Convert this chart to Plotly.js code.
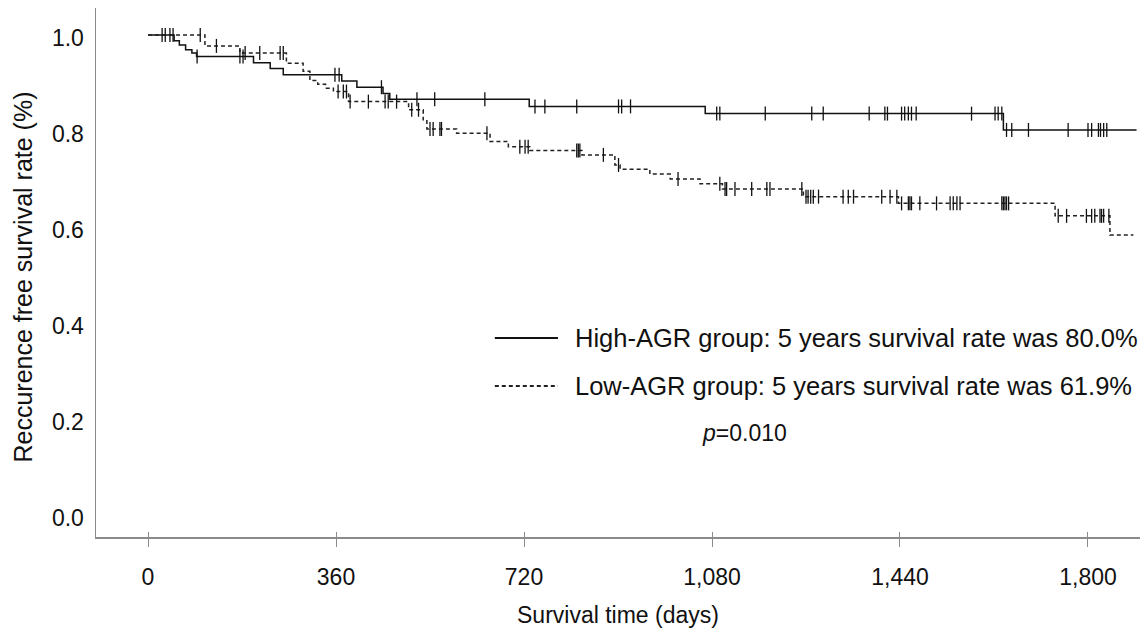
<!DOCTYPE html>
<html>
<head>
<meta charset="utf-8">
<script src="https://cdn.plot.ly/plotly-3.0.1.min.js"></script>
<style>
  html, body { margin: 0; padding: 0; background: #fff; }
  #chart { width: 1145px; height: 634px; }
</style>
</head>
<body>
<div id="chart"></div>
<script>
// ---------- DATA ----------
// High-AGR group: step times (days) and survival after each step
const highStepDays = [0, 50, 60, 72, 84, 93, 202, 234, 259, 371, 400, 450, 463, 730, 1067, 1638, 1893];
const highStepSurv = [1.0, 0.988, 0.979, 0.969, 0.962, 0.955, 0.942, 0.930, 0.917, 0.904, 0.891, 0.878, 0.866, 0.851, 0.836, 0.802, 0.802];
const highCensorDays = [27, 42, 94, 176, 182, 358, 366, 447, 515, 549, 645, 741, 760, 821, 901, 907, 924,
  1089, 1095, 1182, 1271, 1293, 1381, 1411, 1416, 1443, 1449, 1456, 1462, 1471, 1577, 1622, 1628, 1635,
  1644, 1654, 1686, 1762, 1800, 1807, 1820, 1824, 1830, 1836];

// Low-AGR group
const lowStepDays = [0, 109, 176, 265, 297, 310, 325, 340, 355, 384, 499, 527, 534, 591, 655, 690, 731, 831,
  894, 904, 961, 1000, 1057, 1100, 1255, 1437, 1737, 1842, 1887];
const lowStepSurv = [1.0, 0.977, 0.962, 0.941, 0.924, 0.905, 0.897, 0.889, 0.882, 0.861, 0.844, 0.823, 0.804,
  0.795, 0.778, 0.767, 0.759, 0.750, 0.729, 0.720, 0.710, 0.700, 0.690, 0.679, 0.663, 0.649, 0.623, 0.583, 0.583];
const lowCensorDays = [33, 48, 100, 131, 186, 214, 253, 259, 364, 374, 380, 387, 422, 454, 460, 476, 505, 518,
  540, 546, 559, 562, 649, 712, 722, 728, 821, 824, 827, 872, 901, 1015, 1095, 1105, 1108, 1124, 1156, 1185,
  1191, 1252, 1260, 1264, 1269, 1274, 1284, 1331, 1341, 1351, 1405, 1421, 1434, 1443, 1456, 1459, 1462, 1478,
  1510, 1536, 1542, 1549, 1555, 1635, 1638, 1641, 1644, 1648, 1743, 1759, 1797, 1807, 1813, 1823, 1826, 1830, 1840];

const xTickVals = [0, 360, 720, 1080, 1440, 1800];
const xTickText = ['0', '360', '720', '1,080', '1,440', '1,800'];
const yTickVals = [0, 0.2, 0.4, 0.6, 0.8, 1.0];
const yTickText = ['0.0', '0.2', '0.4', '0.6', '0.8', '1.0'];

const highLabel = 'High-AGR group: 5 years survival rate was 80.0%';
const lowLabel = 'Low-AGR group: 5 years survival rate was 61.9%';
const pLabel = '<i>p</i>=0.010';
const xTitle = 'Survival time (days)';
const yTitle = 'Reccurence free survival rate (%)';

// ---------- helpers ----------
function survAt(days, surv, t) {
  let v = surv[0];
  for (let i = 0; i < days.length; i++) { if (days[i] <= t) v = surv[i]; }
  return v;
}

const FONT = 'Liberation Sans, Arial, sans-serif';
const INK = '#111111';
const AXIS = '#8a8a8a';

const traces = [
  { x: highStepDays, y: highStepSurv, mode: 'lines', line: { shape: 'hv', color: INK, width: 1.5 },
    hoverinfo: 'skip', showlegend: false },
  { x: lowStepDays, y: lowStepSurv, mode: 'lines', line: { shape: 'hv', color: '#222', width: 1.5, dash: '4px,3px' },
    hoverinfo: 'skip', showlegend: false },
  { x: highCensorDays, y: highCensorDays.map(t => survAt(highStepDays, highStepSurv, t)), mode: 'markers',
    marker: { symbol: 'line-ns', size: 10, line: { color: INK, width: 1.3 } }, showlegend: false, hoverinfo: 'skip' },
  { x: lowCensorDays, y: lowCensorDays.map(t => survAt(lowStepDays, lowStepSurv, t)), mode: 'markers',
    marker: { symbol: 'line-ns', size: 10, line: { color: INK, width: 1.3 } }, showlegend: false, hoverinfo: 'skip' },
  // dummy trace on overlay axis so the inside ticks are drawn
  { x: [0], y: [0], xaxis: 'x2', mode: 'markers', marker: { opacity: 0 }, showlegend: false, hoverinfo: 'skip' }
];

const layout = {
  width: 1145, height: 634,
  margin: { l: 96, r: 5, t: 8, b: 97 },
  paper_bgcolor: '#fff', plot_bgcolor: '#fff',
  font: { family: FONT, size: 24, color: INK },
  showlegend: false,
  xaxis: {
    range: [-99.6, 1899.6], showgrid: false, zeroline: false,
    showline: true, linecolor: AXIS, linewidth: 1.5,
    tickmode: 'array', tickvals: xTickVals, ticktext: xTickText,
    ticks: 'outside', ticklen: 8, tickcolor: AXIS, tickwidth: 1,
    ticklabelstandoff: 11,
    tickfont: { size: 23, color: INK }
  },
  xaxis2: {
    overlaying: 'x', matches: 'x', side: 'bottom', showgrid: false, zeroline: false,
    tickmode: 'array', tickvals: xTickVals, ticks: 'inside', ticklen: 5, tickcolor: AXIS, tickwidth: 1,
    showticklabels: false, showline: false
  },
  yaxis: {
    range: [-0.046, 1.056], showgrid: false, zeroline: false,
    showline: true, linecolor: AXIS, linewidth: 1.5,
    tickmode: 'array', tickvals: yTickVals, ticktext: yTickText,
    ticks: 'outside', ticklen: 6, tickcolor: 'rgba(0,0,0,0)',
    ticklabelshift: 3,
    tickfont: { size: 23, color: INK }
  },
  shapes: [
    { type: 'line', xref: 'paper', yref: 'paper', x0: 0.382, x1: 0.4425, y0: 0.3762, y1: 0.3762,
      line: { color: INK, width: 1.8 } },
    { type: 'line', xref: 'paper', yref: 'paper', x0: 0.382, x1: 0.4425, y0: 0.2854, y1: 0.2854,
      line: { color: '#222', width: 1.8, dash: '4px,3px' } }
  ],
  annotations: [
    { text: highLabel, xref: 'paper', yref: 'paper', x: 0.4569, y: 0.3762, xanchor: 'left', yanchor: 'middle',
      showarrow: false, font: { size: 25.5, color: INK } },
    { text: lowLabel, xref: 'paper', yref: 'paper', x: 0.4569, y: 0.2854, xanchor: 'left', yanchor: 'middle',
      showarrow: false, font: { size: 25.5, color: INK } },
    { text: pLabel, xref: 'paper', yref: 'paper', x: 0.5785, y: 0.1966, xanchor: 'left', yanchor: 'middle',
      showarrow: false, font: { size: 23, color: INK } },
    { text: xTitle, xref: 'paper', yref: 'paper', x: 0.5, y: 0, xanchor: 'center', yanchor: 'middle',
      yshift: -78, showarrow: false, font: { size: 23, color: INK } },
    { text: yTitle, xref: 'paper', yref: 'paper', x: 0, y: 0.5, xanchor: 'center', yanchor: 'middle',
      xshift: -74, yshift: -5, textangle: -90, showarrow: false, font: { size: 25, color: INK } }
  ]
};

Plotly.newPlot('chart', traces, layout, { displayModeBar: false, staticPlot: true });
</script>
</body>
</html>
